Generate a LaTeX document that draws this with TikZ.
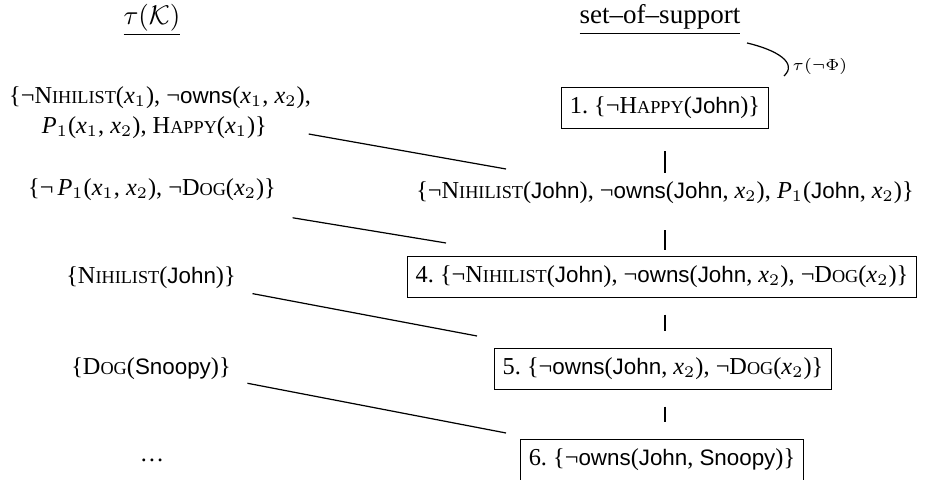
\documentclass[tikz,border=0pt]{standalone}
\usepackage{fontspec}
\setmainfont{Liberation Serif}
\setsansfont[Scale=0.92]{Liberation Sans}
\newcommand{\pred}[2]{#1{\fontsize{6.75}{8}\selectfont #2}}
\newcommand{\nt}{¬}
\newcommand{\vx}[1]{\textit{x}$_{#1}$}
\newcommand{\vp}[1]{\textit{P}$_{#1}$}

\begin{document}
\begin{tikzpicture}[x=0.37pt,y=-0.37pt,
    font=\fontsize{9}{11}\selectfont,
    title/.style={font=\fontsize{10}{12}\selectfont},
    clause/.style={inner sep=3pt},
    boxed/.style={draw, line width=0.5pt, inner xsep=3pt, inner ysep=3.6pt},
    link/.style={line width=0.45pt}]
            \useasboundingbox (0,0) rectangle (931,480);

            % column titles
            \node[title] (TK) at (152,20) {\underline{$\tau(\mathcal{K})$}};
            \node[title] (TS) at (660,20) {\underline{set--of--support}};

            % clauses of tau(K)
            \node[clause, align=left] (K1) at (160,113) {\{\nt\pred{N}{IHILIST}(\vx1), \nt\textsf{owns}(\vx1, \vx2),\\\hspace{1.35em}\vp1(\vx1, \vx2), \pred{H}{APPY}(\vx1)\}};
            \node[clause] (K2) at (152,190) {\{\nt\,\vp1(\vx1, \vx2), \nt\pred{D}{OG}(\vx2)\}};
            \node[clause] (K3) at (151,278) {\{\pred{N}{IHILIST}(\textsf{John})\}};
            \node[clause] (K4) at (151,369) {\{\pred{D}{OG}(\textsf{Snoopy})\}};
            \node[clause] (K5) at (152,460) {\dots};

            % set of support
            \node[boxed] (S1) at (665,108) {1.\ \{\nt\pred{H}{APPY}(\textsf{John})\}};
            \node[clause] (S2) at (665,193) {\{\nt\pred{N}{IHILIST}(\textsf{John}), \nt\textsf{owns}(\textsf{John}, \vx2), \vp1(\textsf{John}, \vx2)\}};
            \node[boxed] (S4) at (662,277) {4.\ \{\nt\pred{N}{IHILIST}(\textsf{John}), \nt\textsf{owns}(\textsf{John}, \vx2), \nt\pred{D}{OG}(\vx2)\}};
            \node[boxed] (S5) at (663,369) {5.\ \{\nt\textsf{owns}(\textsf{John}, \vx2), \nt\pred{D}{OG}(\vx2)\}};
            \node[boxed] (S6) at (662,460) {6.\ \{\nt\textsf{owns}(\textsf{John}, \textsf{Snoopy})\}};

            % negated goal
            \coordinate (G1) at (747,43);
            \coordinate (G2) at (784,76);
            \draw[link] (G1) .. controls (777,50) and (798,63) .. (G2);
            \node[font=\fontsize{6}{7}\selectfont] (TG) at (820,66) {$\tau(\neg\Phi)$};

            % resolution steps
            \draw[link, shorten <=8pt, shorten >=0pt] (S1) -- (S2);
            \draw[link, shorten <=6.5pt, shorten >=2pt] (S2.south -| S1) -- (S4.north -| S1);
            \draw[link, shorten <=6pt, shorten >=6.3pt] (S4.south -| S1) -- (S5.north -| S1);
            \draw[link, shorten <=6pt, shorten >=6.3pt] (S5.south -| S1) -- (S6.north -| S1);

            \coordinate (C1) at (506,169);
            \coordinate (C2) at (446,243);
            \coordinate (C3) at (477,336);
            \coordinate (C4) at (506,433);
            \draw[link] ([xshift=-4pt,yshift=5pt]K1.south east) -- (C1);
            \draw[link] ([xshift=3pt,yshift=-3pt]K2.south east) -- (C2);
            \draw[link] ([xshift=3pt,yshift=1.5pt]K3.south east) -- (C3);
            \draw[link] ([xshift=3pt,yshift=2pt]K4.south east) -- (C4);
\end{tikzpicture}
\end{document}
